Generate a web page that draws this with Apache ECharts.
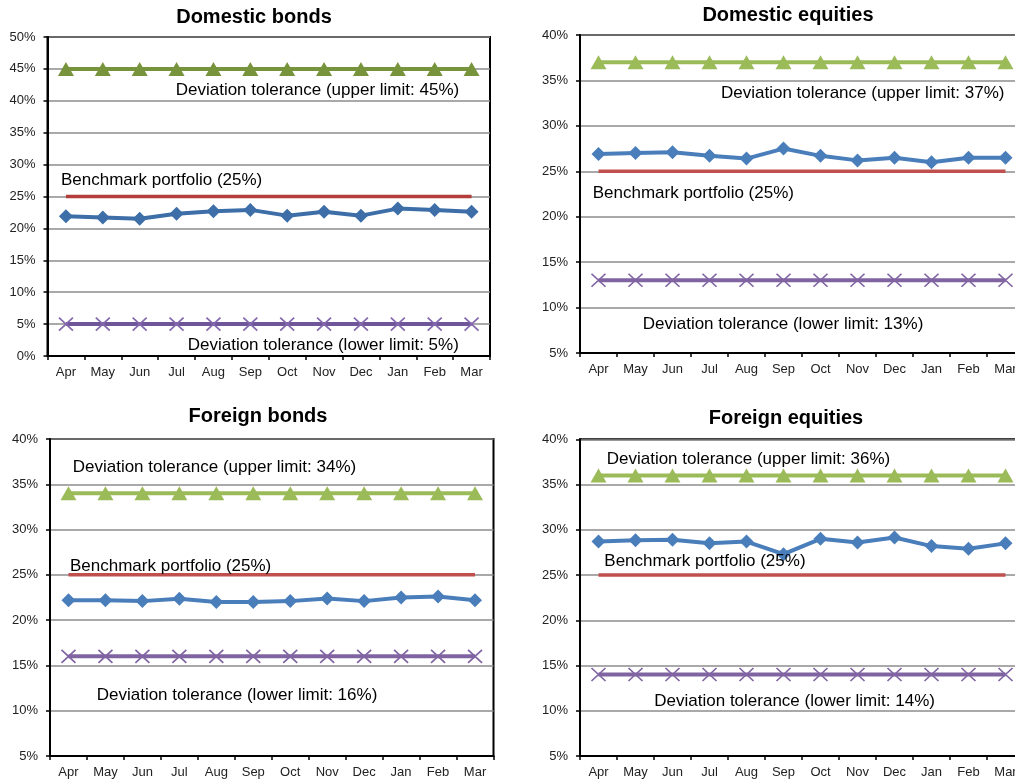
<!DOCTYPE html>
<html>
<head>
<meta charset="utf-8">
<title>Portfolio allocation vs. benchmark</title>
<script src="https://cdn.jsdelivr.net/npm/echarts@6/dist/echarts.min.js"></script>
<style>
  html, body { margin: 0; padding: 0; background: #fff; overflow: hidden; }
  /* the right-hand panels run slightly past the visible page edge */
  #chart { width: 1025px; height: 779px; }
</style>
</head>
<body>
<div id="chart"></div>
<script>
// Fiscal-year months (April to March)
const months = ['Apr', 'May', 'Jun', 'Jul', 'Aug', 'Sep', 'Oct', 'Nov', 'Dec', 'Jan', 'Feb', 'Mar'];

// Panel titles
const panelTitles = ['Domestic bonds', 'Domestic equities', 'Foreign bonds', 'Foreign equities'];

// Actual allocation (%) per month
const domesticBondsActual    = [21.9, 21.7, 21.5, 22.3, 22.7, 22.9, 22.0, 22.6, 22.0, 23.1, 22.9, 22.6];
const domesticEquitiesActual = [26.9, 27.0, 27.1, 26.7, 26.4, 27.5, 26.7, 26.2, 26.5, 26.0, 26.5, 26.5];
const foreignBondsActual     = [22.2, 22.2, 22.1, 22.35, 22.0, 22.0, 22.1, 22.4, 22.1, 22.5, 22.6, 22.2];
const foreignEquitiesActual  = [28.7, 28.85, 28.9, 28.5, 28.7, 27.3, 29.0, 28.6, 29.15, 28.2, 27.9, 28.5];

// Benchmark portfolio weights (%)
const domesticBondsBenchmark    = [25, 25, 25, 25, 25, 25, 25, 25, 25, 25, 25, 25];
const domesticEquitiesBenchmark = [25, 25, 25, 25, 25, 25, 25, 25, 25, 25, 25, 25];
const foreignBondsBenchmark     = [25, 25, 25, 25, 25, 25, 25, 25, 25, 25, 25, 25];
const foreignEquitiesBenchmark  = [25, 25, 25, 25, 25, 25, 25, 25, 25, 25, 25, 25];

// Deviation tolerance, upper limit (%)
const domesticBondsUpper    = [45, 45, 45, 45, 45, 45, 45, 45, 45, 45, 45, 45];
const domesticEquitiesUpper = [37, 37, 37, 37, 37, 37, 37, 37, 37, 37, 37, 37];
const foreignBondsUpper     = [34, 34, 34, 34, 34, 34, 34, 34, 34, 34, 34, 34];
const foreignEquitiesUpper  = [36, 36, 36, 36, 36, 36, 36, 36, 36, 36, 36, 36];

// Deviation tolerance, lower limit (%)
const domesticBondsLower    = [5, 5, 5, 5, 5, 5, 5, 5, 5, 5, 5, 5];
const domesticEquitiesLower = [13, 13, 13, 13, 13, 13, 13, 13, 13, 13, 13, 13];
const foreignBondsLower     = [16, 16, 16, 16, 16, 16, 16, 16, 16, 16, 16, 16];
const foreignEquitiesLower  = [14, 14, 14, 14, 14, 14, 14, 14, 14, 14, 14, 14];

// Y-axis ranges (%)
const axisMin      = [0, 5, 5, 5];
const axisMax      = [50, 40, 40, 40];
const axisInterval = [5, 5, 5, 5];

// Annotation texts
const upperLabels = [
  'Deviation tolerance (upper limit: 45%)',
  'Deviation tolerance (upper limit: 37%)',
  'Deviation tolerance (upper limit: 34%)',
  'Deviation tolerance (upper limit: 36%)'
];
const benchmarkLabels = [
  'Benchmark portfolio (25%)',
  'Benchmark portfolio (25%)',
  'Benchmark portfolio (25%)',
  'Benchmark portfolio (25%)'
];
const lowerLabels = [
  'Deviation tolerance (lower limit: 5%)',
  'Deviation tolerance (lower limit: 13%)',
  'Deviation tolerance (lower limit: 16%)',
  'Deviation tolerance (lower limit: 14%)'
];

const actualSets    = [domesticBondsActual, domesticEquitiesActual, foreignBondsActual, foreignEquitiesActual];
const benchmarkSets = [domesticBondsBenchmark, domesticEquitiesBenchmark, foreignBondsBenchmark, foreignEquitiesBenchmark];
const upperSets     = [domesticBondsUpper, domesticEquitiesUpper, foreignBondsUpper, foreignEquitiesUpper];
const lowerSets     = [domesticBondsLower, domesticEquitiesLower, foreignBondsLower, foreignEquitiesLower];

// ---- layout & styling ----
const FONT = '"Liberation Sans", Arial, sans-serif';

const grids = [
  { left: 47.5, top: 37,    width: 442.5, height: 319 },
  { left: 580,  top: 35,    width: 444,   height: 318 },
  { left: 50,   top: 439,   width: 443.5, height: 318.7 },
  { left: 580,  top: 439.3, width: 444,   height: 317.4 }
];

// the first panel uses a slightly deeper palette
const palettes = [
  { upper: '#77933C', bench: '#B23D3B', actual: '#3D6EA8', lower: '#6F559A', cross: '#8468AE' },
  { upper: '#9BBB59', bench: '#C0504D', actual: '#4A7EBB', lower: '#8064A2', cross: '#8064A2' },
  { upper: '#9BBB59', bench: '#C0504D', actual: '#4A7EBB', lower: '#8064A2', cross: '#8064A2' },
  { upper: '#9BBB59', bench: '#C0504D', actual: '#4A7EBB', lower: '#8064A2', cross: '#8064A2' }
];

const titlePos = [[254, 17], [788, 15], [258, 416.5], [786, 418.7]];
const upperPos = [[175.7, 90.7], [721, 93.3], [72.7, 467.3], [606.7, 459]];
const benchPos = [[61, 180], [592.7, 193.3], [70, 566], [604.3, 561.7]];
const lowerPos = [[187.7, 345], [642.7, 324], [96.7, 695], [654.3, 701]];

const crossPath = 'path://M0,0 L10,10 M10,0 L0,10';

const option = {
  backgroundColor: '#ffffff',
  animation: false,
  grid: [],
  xAxis: [],
  yAxis: [],
  series: [],
  graphic: []
};

for (let i = 0; i < 4; i++) {
  const g = grids[i];
  const p = palettes[i];
  option.grid.push({
    left: g.left, top: g.top, width: g.width, height: g.height,
    show: true, borderColor: '#000', borderWidth: 2, backgroundColor: 'transparent',
    containLabel: false
  });
  option.xAxis.push({
    type: 'category',
    gridIndex: i,
    data: months,
    boundaryGap: true,
    axisLine: { show: true, lineStyle: { color: '#000', width: 2 } },
    axisTick: { show: true, inside: false, length: 4, interval: 0, lineStyle: { color: '#000', width: 1.5 } },
    axisLabel: { interval: 0, color: '#222', fontFamily: FONT, fontSize: 13, margin: 10 },
    splitLine: { show: false }
  });
  option.yAxis.push({
    type: 'value',
    gridIndex: i,
    min: axisMin[i], max: axisMax[i], interval: axisInterval[i],
    axisLine: { show: true, lineStyle: { color: '#000', width: 2 } },
    axisTick: { show: true, inside: false, length: 4, lineStyle: { color: '#000', width: 1.5 } },
    axisLabel: { formatter: '{value}%', color: '#222', fontFamily: FONT, fontSize: 13, margin: 12 },
    splitLine: { show: true, lineStyle: { color: '#8c8c8c', width: 1.5 } }
  });

  option.series.push(
    {
      name: 'Benchmark portfolio', type: 'line', xAxisIndex: i, yAxisIndex: i,
      data: benchmarkSets[i], showSymbol: false, symbol: 'none',
      lineStyle: { color: p.bench, width: 3.5 }, z: 3
    },
    {
      name: 'Lower limit', type: 'line', xAxisIndex: i, yAxisIndex: i,
      data: lowerSets[i], symbol: crossPath, symbolSize: [14, 13],
      lineStyle: { color: p.lower, width: 4 },
      itemStyle: { color: 'transparent', borderColor: p.cross, borderWidth: 1.6 }, z: 3
    },
    {
      name: 'Upper limit', type: 'line', xAxisIndex: i, yAxisIndex: i,
      data: upperSets[i], symbol: 'triangle', symbolSize: [16, 14],
      lineStyle: { color: p.upper, width: 4 },
      itemStyle: { color: p.upper }, z: 3
    },
    {
      name: 'Actual', type: 'line', xAxisIndex: i, yAxisIndex: i,
      data: actualSets[i], symbol: 'diamond', symbolSize: [14, 14],
      lineStyle: { color: p.actual, width: 4 },
      itemStyle: { color: p.actual }, z: 4
    }
  );

  option.graphic.push(
    {
      type: 'text', x: titlePos[i][0], y: titlePos[i][1], z: 10,
      style: { text: panelTitles[i], fill: '#000', font: 'bold 20px ' + FONT, align: 'center', verticalAlign: 'middle' }
    },
    {
      type: 'text', x: upperPos[i][0], y: upperPos[i][1], z: 10,
      style: { text: upperLabels[i], fill: '#000', font: '17px ' + FONT, align: 'left', verticalAlign: 'middle' }
    },
    {
      type: 'text', x: benchPos[i][0], y: benchPos[i][1], z: 10,
      style: { text: benchmarkLabels[i], fill: '#000', font: '17px ' + FONT, align: 'left', verticalAlign: 'middle' }
    },
    {
      type: 'text', x: lowerPos[i][0], y: lowerPos[i][1], z: 10,
      style: { text: lowerLabels[i], fill: '#000', font: '17px ' + FONT, align: 'left', verticalAlign: 'middle' }
    }
  );
}

const chart = echarts.init(document.getElementById('chart'), null, { renderer: 'canvas' });
chart.setOption(option);
</script>
</body>
</html>
